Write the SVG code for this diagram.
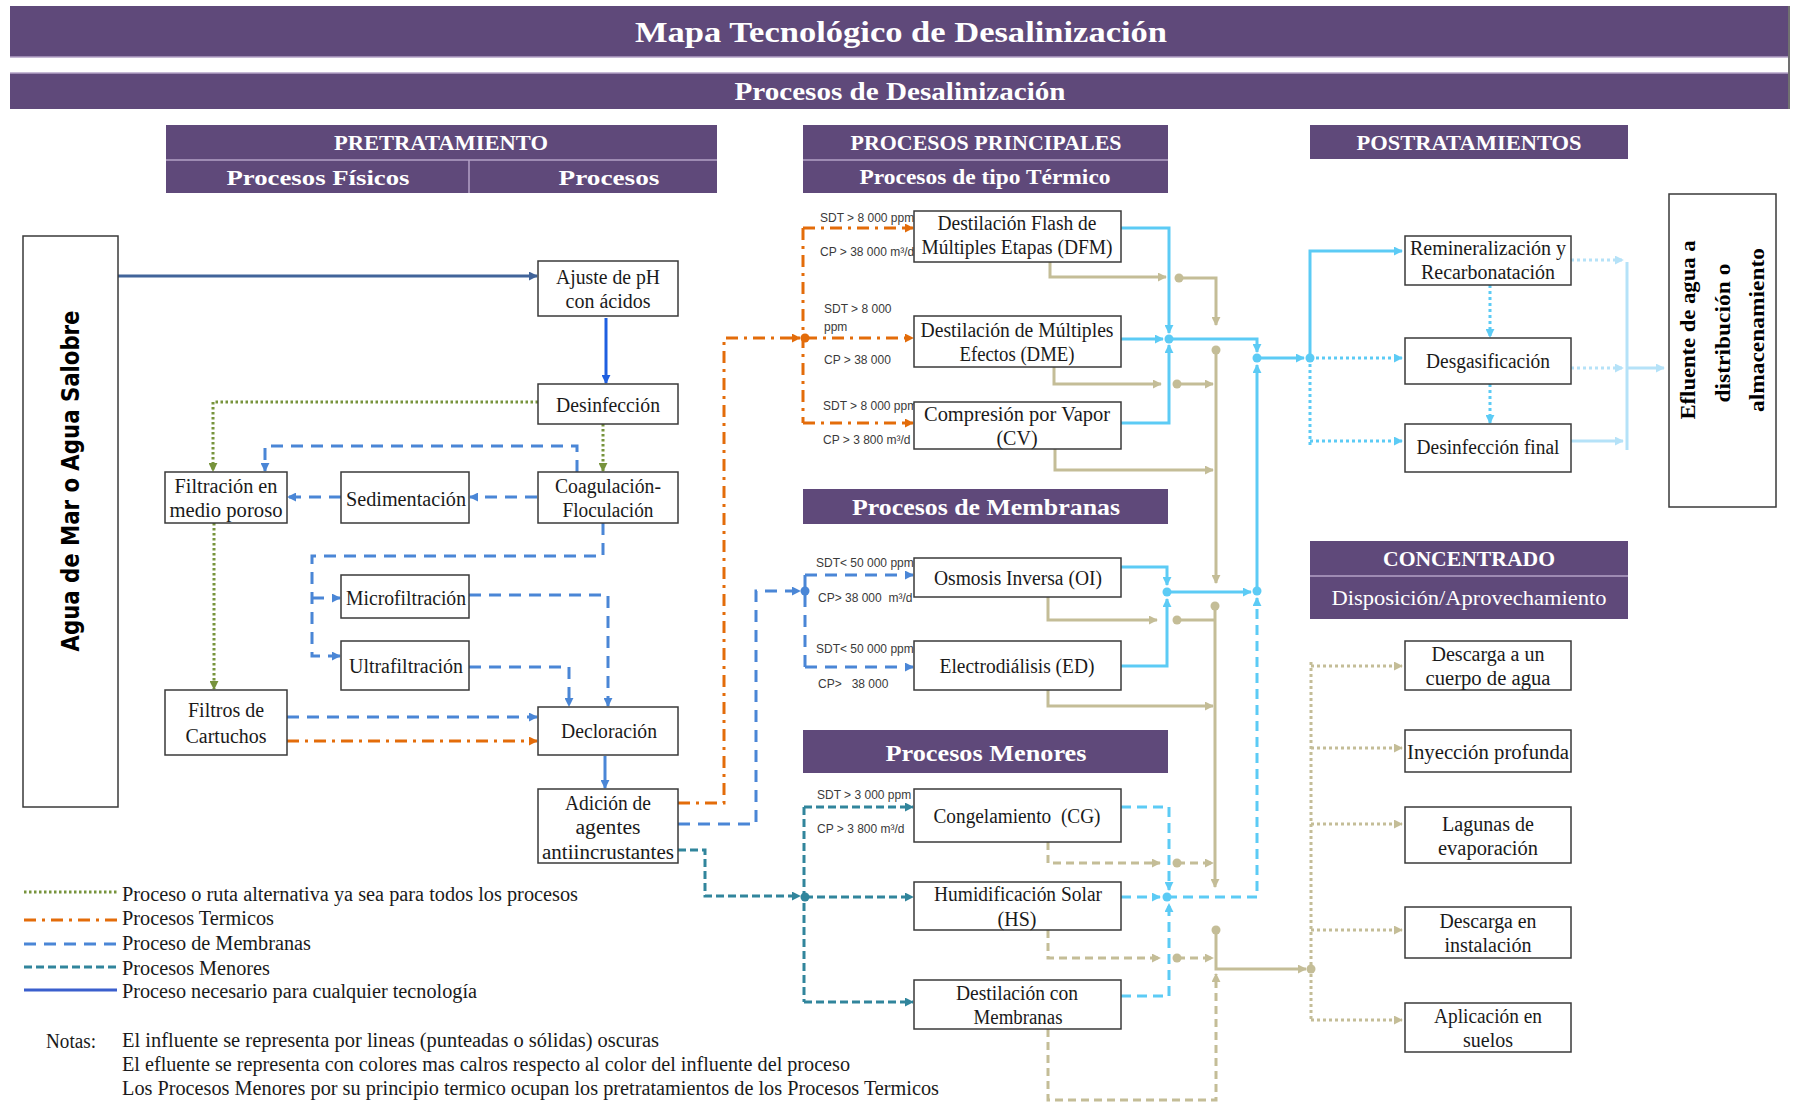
<svg xmlns="http://www.w3.org/2000/svg" width="1794" height="1115" viewBox="0 0 1794 1115">
  <style>
    .band { fill: #5f497a; }
    .sep { stroke: #b3a2c7; stroke-width: 1.5; }
    .hd { font-family: "Liberation Serif", serif; font-weight: bold; fill: #ffffff; text-anchor: middle; }
    .hdn { font-family: "Liberation Serif", serif; fill: #ffffff; text-anchor: middle; }
    .box { fill: #ffffff; stroke: #3a3a3a; stroke-width: 1.5; }
    .bx { font-family: "Liberation Serif", serif; font-size: 20px; fill: #1a1a1a; text-anchor: middle; }
    .lbl { font-family: "Liberation Sans", "Open Sans", sans-serif; font-size: 12px; fill: #3a3a3a; }
    .lg { font-family: "Liberation Serif", serif; font-size: 20px; fill: #1a1a1a; }
    .c { fill: none; stroke-width: 3; }
    .steel { stroke: #41649a; }
    .sblue { stroke: #1f5fe0; }
    .lblue { stroke: #4a86d6; }
    .mem { stroke: #4a86d6; stroke-dasharray: 12 8; }
    .ter { stroke: #e36c0a; stroke-dasharray: 12 6 3 6; }
    .alt { stroke: #77933c; stroke-dasharray: 2.5 2.5; }
    .men { stroke: #31859c; stroke-dasharray: 8 4; }
    .eff { stroke: #5ccbf5; }
    .effd { stroke: #5ccbf5; stroke-dasharray: 10 6; }
    .effp { stroke: #5ccbf5; stroke-dasharray: 3 3; }
    .fin { stroke: #b5e2f8; }
    .finp { stroke: #b5e2f8; stroke-dasharray: 3 3; }
    .con { stroke: #c4bd97; }
    .cond { stroke: #c4bd97; stroke-dasharray: 8 5; }
    .conp { stroke: #c4bd97; stroke-dasharray: 3 3; }
  </style>
  <defs>
    <marker id="a-steel" viewBox="0 0 10 10" refX="9" refY="5" markerWidth="9" markerHeight="9" markerUnits="userSpaceOnUse" orient="auto"><path d="M0,0L10,5L0,10z" fill="#41649a"/></marker>
    <marker id="a-sblue" viewBox="0 0 10 10" refX="9" refY="5" markerWidth="9" markerHeight="9" markerUnits="userSpaceOnUse" orient="auto"><path d="M0,0L10,5L0,10z" fill="#1f5fe0"/></marker>
    <marker id="a-blue" viewBox="0 0 10 10" refX="9" refY="5" markerWidth="9" markerHeight="9" markerUnits="userSpaceOnUse" orient="auto"><path d="M0,0L10,5L0,10z" fill="#4a86d6"/></marker>
    <marker id="a-or" viewBox="0 0 10 10" refX="9" refY="5" markerWidth="9" markerHeight="9" markerUnits="userSpaceOnUse" orient="auto"><path d="M0,0L10,5L0,10z" fill="#e36c0a"/></marker>
    <marker id="a-gr" viewBox="0 0 10 10" refX="9" refY="5" markerWidth="9" markerHeight="9" markerUnits="userSpaceOnUse" orient="auto"><path d="M0,0L10,5L0,10z" fill="#77933c"/></marker>
    <marker id="a-tl" viewBox="0 0 10 10" refX="9" refY="5" markerWidth="9" markerHeight="9" markerUnits="userSpaceOnUse" orient="auto"><path d="M0,0L10,5L0,10z" fill="#31859c"/></marker>
    <marker id="a-lb" viewBox="0 0 10 10" refX="9" refY="5" markerWidth="9" markerHeight="9" markerUnits="userSpaceOnUse" orient="auto"><path d="M0,0L10,5L0,10z" fill="#5ccbf5"/></marker>
    <marker id="a-vl" viewBox="0 0 10 10" refX="9" refY="5" markerWidth="9" markerHeight="9" markerUnits="userSpaceOnUse" orient="auto"><path d="M0,0L10,5L0,10z" fill="#b5e2f8"/></marker>
    <marker id="a-bg" viewBox="0 0 10 10" refX="9" refY="5" markerWidth="9" markerHeight="9" markerUnits="userSpaceOnUse" orient="auto"><path d="M0,0L10,5L0,10z" fill="#c4bd97"/></marker>
  </defs>

  <rect width="1794" height="1115" fill="#ffffff"/>

  <!-- Section headers -->
  <g id="headers">
    <rect class="band" x="10" y="6" width="1778" height="51"/>
    <line class="sep" x1="10" y1="57" x2="1788" y2="57"/>
    <text class="hd" x="901" y="42" font-size="29" textLength="532" lengthAdjust="spacingAndGlyphs">Mapa Tecnológico de Desalinización</text>
    <rect class="band" x="10" y="73" width="1778" height="36"/>
    <line class="sep" x1="10" y1="73" x2="1788" y2="73"/>
    <text class="hd" x="900" y="100" font-size="25" textLength="331" lengthAdjust="spacingAndGlyphs">Procesos de Desalinización</text>
    <line x1="1789" y1="6" x2="1789" y2="109" stroke="#404040" stroke-width="1.5"/>

    <rect class="band" x="166" y="125" width="551" height="68"/>
    <line class="sep" x1="166" y1="160" x2="717" y2="160"/>
    <line class="sep" x1="469" y1="160" x2="469" y2="193"/>
    <text class="hd" x="441" y="150" font-size="21" textLength="214" lengthAdjust="spacingAndGlyphs">PRETRATAMIENTO</text>
    <text class="hd" x="318" y="185" font-size="22" textLength="183" lengthAdjust="spacingAndGlyphs">Procesos Físicos</text>
    <text class="hd" x="609" y="185" font-size="22" textLength="101" lengthAdjust="spacingAndGlyphs">Procesos</text>

    <rect class="band" x="803" y="125" width="365" height="68"/>
    <line class="sep" x1="803" y1="160" x2="1168" y2="160"/>
    <text class="hd" x="986" y="150" font-size="21" textLength="271" lengthAdjust="spacingAndGlyphs">PROCESOS PRINCIPALES</text>
    <text class="hd" x="985" y="184" font-size="20" textLength="251" lengthAdjust="spacingAndGlyphs">Procesos de tipo Térmico</text>

    <rect class="band" x="1310" y="125" width="318" height="34"/>
    <text class="hd" x="1469" y="150" font-size="21" textLength="225" lengthAdjust="spacingAndGlyphs">POSTRATAMIENTOS</text>

    <rect class="band" x="803" y="489" width="365" height="35"/>
    <text class="hd" x="986" y="515" font-size="24" textLength="268" lengthAdjust="spacingAndGlyphs">Procesos de Membranas</text>

    <rect class="band" x="803" y="730" width="365" height="43"/>
    <text class="hd" x="986" y="761" font-size="24" textLength="201" lengthAdjust="spacingAndGlyphs">Procesos Menores</text>

    <rect class="band" x="1310" y="541" width="318" height="78"/>
    <line class="sep" x1="1310" y1="576" x2="1628" y2="576"/>
    <text class="hd" x="1469" y="566" font-size="22" textLength="172" lengthAdjust="spacingAndGlyphs">CONCENTRADO</text>
    <text class="hdn" x="1469" y="605" font-size="21" textLength="275" lengthAdjust="spacingAndGlyphs">Disposición/Aprovechamiento</text>
  </g>

  <!-- Connectors -->
  <g id="connectors">
    <!-- pretreatment chain -->
    <path class="c steel" d="M118,276H537" marker-end="url(#a-steel)"/>
    <path class="c sblue" d="M606,318V383" marker-end="url(#a-sblue)"/>
    <path class="c lblue" d="M605,756V788" marker-end="url(#a-blue)"/>

    <path class="c alt" d="M538,402H213V471" marker-end="url(#a-gr)"/>
    <path class="c alt" d="M603,424V471" marker-end="url(#a-gr)"/>
    <path class="c alt" d="M214,523V689" marker-end="url(#a-gr)"/>

    <path class="c mem" d="M577,472V446H265V471" marker-end="url(#a-blue)"/>
    <path class="c mem" d="M537,497H470" marker-end="url(#a-blue)"/>
    <path class="c mem" d="M341,497H288" marker-end="url(#a-blue)"/>
    <path class="c mem" d="M603,523V556H312V656H340" marker-end="url(#a-blue)"/>
    <path class="c mem" d="M312,598H340" marker-end="url(#a-blue)"/>
    <path class="c mem" d="M469,595H608V706" marker-end="url(#a-blue)"/>
    <path class="c mem" d="M469,667H569V706" marker-end="url(#a-blue)"/>
    <path class="c mem" d="M287,717H537" marker-end="url(#a-blue)"/>
    <path class="c ter" d="M287,741H537" marker-end="url(#a-or)"/>

    <!-- feeds to main processes -->
    <path class="c ter" d="M678,803H724V338H800" marker-end="url(#a-or)"/>
    <path class="c ter" d="M803,228V423"/>
    <path class="c ter" d="M803,228H913" marker-end="url(#a-or)"/>
    <path class="c ter" d="M805,338H913" marker-end="url(#a-or)"/>
    <path class="c ter" d="M803,423H913" marker-end="url(#a-or)"/>
    <circle cx="805" cy="338" r="4.5" fill="#e36c0a"/>

    <path class="c mem" d="M678,824H756V591H800" marker-end="url(#a-blue)"/>
    <path class="c mem" d="M805,575V667"/>
    <path class="c mem" d="M805,575H913" marker-end="url(#a-blue)"/>
    <path class="c mem" d="M805,667H913" marker-end="url(#a-blue)"/>
    <circle cx="805" cy="591" r="4.5" fill="#4a86d6"/>

    <path class="c men" d="M678,850H705V896H800" marker-end="url(#a-tl)"/>
    <path class="c men" d="M804,807V1002"/>
    <path class="c men" d="M804,807H913" marker-end="url(#a-tl)"/>
    <path class="c men" d="M805,897H913" marker-end="url(#a-tl)"/>
    <path class="c men" d="M804,1002H913" marker-end="url(#a-tl)"/>
    <circle cx="805" cy="897" r="4.5" fill="#31859c"/>

    <!-- feed conditions -->
    <text class="lbl" x="820" y="222">SDT &gt; 8 000 ppm</text>
    <text class="lbl" x="820" y="256">CP &gt; 38 000 m³/d</text>
    <text class="lbl" x="824" y="313">SDT &gt; 8 000</text>
    <text class="lbl" x="824" y="331">ppm</text>
    <text class="lbl" x="824" y="364">CP &gt; 38 000</text>
    <text class="lbl" x="823" y="410">SDT &gt; 8 000 ppm</text>
    <text class="lbl" x="823" y="444">CP &gt; 3 800 m³/d</text>
    <text class="lbl" x="816" y="567">SDT&lt; 50 000 ppm</text>
    <text class="lbl" x="818" y="602" xml:space="preserve">CP&gt; 38 000  m³/d</text>
    <text class="lbl" x="816" y="653">SDT&lt; 50 000 ppm</text>
    <text class="lbl" x="818" y="688" xml:space="preserve">CP&gt;   38 000</text>
    <text class="lbl" x="817" y="799">SDT &gt; 3 000 ppm</text>
    <text class="lbl" x="817" y="833">CP &gt; 3 800 m³/d</text>

    <!-- product water -->
    <path class="c eff" d="M1121,228H1169V333" marker-end="url(#a-lb)"/>
    <path class="c eff" d="M1121,339H1163" marker-end="url(#a-lb)"/>
    <path class="c eff" d="M1121,423H1169V345" marker-end="url(#a-lb)"/>
    <path class="c eff" d="M1169,339H1257V352" marker-end="url(#a-lb)"/>
    <path class="c eff" d="M1257,358H1304" marker-end="url(#a-lb)"/>
    <path class="c eff" d="M1257,591V365" marker-end="url(#a-lb)"/>
    <path class="c eff" d="M1310,358V251H1402" marker-end="url(#a-lb)"/>
    <path class="c eff" d="M1121,567H1167V585" marker-end="url(#a-lb)"/>
    <path class="c eff" d="M1121,666H1167V599" marker-end="url(#a-lb)"/>
    <path class="c eff" d="M1167,592H1251" marker-end="url(#a-lb)"/>
    <path class="c effd" d="M1121,807H1169V890" marker-end="url(#a-lb)"/>
    <path class="c effd" d="M1121,897H1160" marker-end="url(#a-lb)"/>
    <path class="c effd" d="M1121,996H1169V904" marker-end="url(#a-lb)"/>
    <path class="c effd" d="M1167,897H1257V598" marker-end="url(#a-lb)"/>
    <path class="c effp" d="M1310,358H1402" marker-end="url(#a-lb)"/>
    <path class="c effp" d="M1310,358V447"/>
    <path class="c effp" d="M1310,441H1402" marker-end="url(#a-lb)"/>
    <path class="c effp" d="M1490,285V337" marker-end="url(#a-lb)"/>
    <path class="c effp" d="M1490,384V423" marker-end="url(#a-lb)"/>
    <circle cx="1169" cy="339" r="4.5" fill="#5ccbf5"/>
    <circle cx="1257" cy="358" r="4.5" fill="#5ccbf5"/>
    <circle cx="1310" cy="358" r="4.5" fill="#5ccbf5"/>
    <circle cx="1167" cy="592" r="4.5" fill="#5ccbf5"/>
    <circle cx="1257" cy="591" r="4.5" fill="#5ccbf5"/>
    <circle cx="1167" cy="897" r="4.5" fill="#5ccbf5"/>

    <path class="c finp" d="M1571,260H1623" marker-end="url(#a-vl)"/>
    <path class="c finp" d="M1571,368H1623" marker-end="url(#a-vl)"/>
    <path class="c fin" d="M1571,441H1623" marker-end="url(#a-vl)"/>
    <path class="c fin" d="M1627,262V450"/>
    <path class="c fin" d="M1627,368H1664" marker-end="url(#a-vl)"/>

    <!-- brine -->
    <path class="c con" d="M1050,261V277H1166" marker-end="url(#a-bg)"/>
    <path class="c con" d="M1179,278H1216V325" marker-end="url(#a-bg)"/>
    <path class="c con" d="M1054,367V384H1161" marker-end="url(#a-bg)"/>
    <path class="c con" d="M1177,384H1213" marker-end="url(#a-bg)"/>
    <path class="c con" d="M1055,449V470H1213" marker-end="url(#a-bg)"/>
    <path class="c con" d="M1216,350V583" marker-end="url(#a-bg)"/>
    <path class="c con" d="M1048,597V620H1157" marker-end="url(#a-bg)"/>
    <path class="c con" d="M1177,620H1215"/>
    <path class="c con" d="M1215,606V887" marker-end="url(#a-bg)"/>
    <path class="c con" d="M1048,690V706H1213" marker-end="url(#a-bg)"/>
    <path class="c con" d="M1216,930V969H1306" marker-end="url(#a-bg)"/>
    <path class="c cond" d="M1048,842V863H1160" marker-end="url(#a-bg)"/>
    <path class="c cond" d="M1177,863H1213" marker-end="url(#a-bg)"/>
    <path class="c cond" d="M1048,930V958H1160" marker-end="url(#a-bg)"/>
    <path class="c cond" d="M1177,958H1213" marker-end="url(#a-bg)"/>
    <path class="c cond" d="M1048,1029V1100H1216V974" marker-end="url(#a-bg)"/>
    <path class="c conp" d="M1311,662V1020"/>
    <path class="c conp" d="M1311,666H1402" marker-end="url(#a-bg)"/>
    <path class="c conp" d="M1311,748H1402" marker-end="url(#a-bg)"/>
    <path class="c conp" d="M1311,824H1402" marker-end="url(#a-bg)"/>
    <path class="c conp" d="M1311,930H1402" marker-end="url(#a-bg)"/>
    <path class="c conp" d="M1311,1020H1402" marker-end="url(#a-bg)"/>
    <g fill="#c4bd97">
      <circle cx="1179" cy="278" r="4.5"/>
      <circle cx="1177" cy="384" r="4.5"/>
      <circle cx="1216" cy="350" r="4.5"/>
      <circle cx="1177" cy="620" r="4.5"/>
      <circle cx="1215" cy="606" r="4.5"/>
      <circle cx="1177" cy="863" r="4.5"/>
      <circle cx="1177" cy="958" r="4.5"/>
      <circle cx="1216" cy="930" r="4.5"/>
      <circle cx="1311" cy="969" r="4.5"/>
    </g>
  </g>

  <!-- Nodes: pretreatment -->
  <g id="n-agua">
    <rect class="box" x="23" y="236" width="95" height="571"/>
    <text transform="translate(79,481) rotate(-90)" font-family="'DejaVu Sans', sans-serif" font-weight="bold" font-size="24" text-anchor="middle" fill="#000" textLength="341" lengthAdjust="spacingAndGlyphs">Agua de Mar o Agua Salobre</text>
  </g>
  <g id="n-ajuste"><rect class="box" x="538" y="261" width="140" height="55"/>
    <text class="bx" x="608" y="284" font-size="21" textLength="104" lengthAdjust="spacingAndGlyphs">Ajuste de pH</text>
    <text class="bx" x="608" y="308" font-size="21" textLength="85" lengthAdjust="spacingAndGlyphs">con ácidos</text></g>
  <g id="n-desinfeccion"><rect class="box" x="538" y="384" width="140" height="40"/>
    <text class="bx" x="608" y="412" font-size="21" textLength="104" lengthAdjust="spacingAndGlyphs">Desinfección</text></g>
  <g id="n-coagulacion"><rect class="box" x="538" y="472" width="140" height="51"/>
    <text class="bx" x="608" y="493" font-size="21" textLength="106" lengthAdjust="spacingAndGlyphs">Coagulación-</text>
    <text class="bx" x="608" y="517" font-size="21" textLength="91" lengthAdjust="spacingAndGlyphs">Floculación</text></g>
  <g id="n-sedimentacion"><rect class="box" x="341" y="472" width="128" height="51"/>
    <text class="bx" x="406" y="506" font-size="21" textLength="120" lengthAdjust="spacingAndGlyphs">Sedimentación</text></g>
  <g id="n-filtracion"><rect class="box" x="165" y="472" width="122" height="51"/>
    <text class="bx" x="226" y="493" font-size="21" textLength="103" lengthAdjust="spacingAndGlyphs">Filtración en</text>
    <text class="bx" x="226" y="517" font-size="21" textLength="113" lengthAdjust="spacingAndGlyphs">medio poroso</text></g>
  <g id="n-micro"><rect class="box" x="341" y="575" width="128" height="43"/>
    <text class="bx" x="406" y="605" font-size="21" textLength="120" lengthAdjust="spacingAndGlyphs">Microfiltración</text></g>
  <g id="n-ultra"><rect class="box" x="341" y="641" width="128" height="49"/>
    <text class="bx" x="406" y="673" font-size="21" textLength="114" lengthAdjust="spacingAndGlyphs">Ultrafiltración</text></g>
  <g id="n-filtros"><rect class="box" x="165" y="690" width="122" height="65"/>
    <text class="bx" x="226" y="717" font-size="21" textLength="76" lengthAdjust="spacingAndGlyphs">Filtros de</text>
    <text class="bx" x="226" y="743" font-size="21" textLength="81" lengthAdjust="spacingAndGlyphs">Cartuchos</text></g>
  <g id="n-decloracion"><rect class="box" x="538" y="707" width="140" height="48"/>
    <text class="bx" x="609" y="738" font-size="21" textLength="96" lengthAdjust="spacingAndGlyphs">Decloración</text></g>
  <g id="n-adicion"><rect class="box" x="538" y="789" width="140" height="74"/>
    <text class="bx" x="608" y="810" font-size="21" textLength="86" lengthAdjust="spacingAndGlyphs">Adición de</text>
    <text class="bx" x="608" y="834" font-size="21" textLength="65" lengthAdjust="spacingAndGlyphs">agentes</text>
    <text class="bx" x="608" y="859" font-size="21" textLength="132" lengthAdjust="spacingAndGlyphs">antiincrustantes</text></g>

  <!-- Nodes: main processes -->
  <g id="n-dfm"><rect class="box" x="914" y="211" width="207" height="51"/>
    <text class="bx" x="1017" y="230" textLength="159" lengthAdjust="spacingAndGlyphs">Destilación Flash de</text>
    <text class="bx" x="1017" y="254" textLength="191" lengthAdjust="spacingAndGlyphs">Múltiples Etapas (DFM)</text></g>
  <g id="n-dme"><rect class="box" x="914" y="316" width="207" height="51"/>
    <text class="bx" x="1017" y="337" textLength="193" lengthAdjust="spacingAndGlyphs">Destilación de Múltiples</text>
    <text class="bx" x="1017" y="361" textLength="115" lengthAdjust="spacingAndGlyphs">Efectos (DME)</text></g>
  <g id="n-cv"><rect class="box" x="914" y="402" width="207" height="47"/>
    <text class="bx" x="1017" y="421" textLength="186" lengthAdjust="spacingAndGlyphs">Compresión por Vapor</text>
    <text class="bx" x="1017" y="445">(CV)</text></g>
  <g id="n-oi"><rect class="box" x="914" y="558" width="207" height="39"/>
    <text class="bx" x="1018" y="585" textLength="168" lengthAdjust="spacingAndGlyphs">Osmosis Inversa (OI)</text></g>
  <g id="n-ed"><rect class="box" x="914" y="641" width="207" height="49"/>
    <text class="bx" x="1017" y="673" textLength="155" lengthAdjust="spacingAndGlyphs">Electrodiálisis (ED)</text></g>
  <g id="n-cg"><rect class="box" x="914" y="789" width="207" height="53"/>
    <text class="bx" x="1017" y="823" textLength="167" lengthAdjust="spacingAndGlyphs" xml:space="preserve">Congelamiento  (CG)</text></g>
  <g id="n-hs"><rect class="box" x="914" y="882" width="207" height="48"/>
    <text class="bx" x="1018" y="901" textLength="168" lengthAdjust="spacingAndGlyphs">Humidificación Solar</text>
    <text class="bx" x="1017" y="926">(HS)</text></g>
  <g id="n-dm"><rect class="box" x="914" y="980" width="207" height="49"/>
    <text class="bx" x="1017" y="1000" textLength="122" lengthAdjust="spacingAndGlyphs">Destilación con</text>
    <text class="bx" x="1018" y="1024" textLength="89" lengthAdjust="spacingAndGlyphs">Membranas</text></g>

  <!-- Nodes: post-treatment -->
  <g id="n-remin"><rect class="box" x="1405" y="236" width="166" height="49"/>
    <text class="bx" x="1488" y="255" textLength="156" lengthAdjust="spacingAndGlyphs">Remineralización y</text>
    <text class="bx" x="1488" y="279" textLength="134" lengthAdjust="spacingAndGlyphs">Recarbonatación</text></g>
  <g id="n-desgas"><rect class="box" x="1405" y="338" width="166" height="46"/>
    <text class="bx" x="1488" y="368" textLength="124" lengthAdjust="spacingAndGlyphs">Desgasificación</text></g>
  <g id="n-desinf-final"><rect class="box" x="1405" y="424" width="166" height="48"/>
    <text class="bx" x="1488" y="454" textLength="143" lengthAdjust="spacingAndGlyphs">Desinfección final</text></g>
  <g id="n-efluente">
    <rect class="box" x="1669" y="194" width="107" height="313"/>
    <g font-family="'Liberation Serif', serif" font-weight="bold" font-size="22" text-anchor="middle" fill="#000">
      <text transform="translate(1695,330) rotate(-90)" textLength="179" lengthAdjust="spacingAndGlyphs">Efluente de agua a</text>
      <text transform="translate(1730,333) rotate(-90)" textLength="139" lengthAdjust="spacingAndGlyphs">distribución o</text>
      <text transform="translate(1764,330) rotate(-90)" textLength="164" lengthAdjust="spacingAndGlyphs">almacenamiento</text>
    </g>
  </g>

  <!-- Nodes: brine disposal -->
  <g id="n-descarga-cuerpo"><rect class="box" x="1405" y="641" width="166" height="49"/>
    <text class="bx" x="1488" y="661" textLength="113" lengthAdjust="spacingAndGlyphs">Descarga a un</text>
    <text class="bx" x="1488" y="685" textLength="125" lengthAdjust="spacingAndGlyphs">cuerpo de agua</text></g>
  <g id="n-inyeccion"><rect class="box" x="1405" y="730" width="166" height="42"/>
    <text class="bx" x="1488" y="759" textLength="162" lengthAdjust="spacingAndGlyphs">Inyección profunda</text></g>
  <g id="n-lagunas"><rect class="box" x="1405" y="807" width="166" height="56"/>
    <text class="bx" x="1488" y="831" textLength="92" lengthAdjust="spacingAndGlyphs">Lagunas de</text>
    <text class="bx" x="1488" y="855" textLength="100" lengthAdjust="spacingAndGlyphs">evaporación</text></g>
  <g id="n-descarga-inst"><rect class="box" x="1405" y="907" width="166" height="51"/>
    <text class="bx" x="1488" y="928" textLength="97" lengthAdjust="spacingAndGlyphs">Descarga en</text>
    <text class="bx" x="1488" y="952" textLength="87" lengthAdjust="spacingAndGlyphs">instalación</text></g>
  <g id="n-aplicacion"><rect class="box" x="1405" y="1003" width="166" height="49"/>
    <text class="bx" x="1488" y="1023" textLength="108" lengthAdjust="spacingAndGlyphs">Aplicación en</text>
    <text class="bx" x="1488" y="1047">suelos</text></g>

  <!-- Legend and notes -->
  <g id="legend">
    <path class="c alt" d="M24,892H117"/>
    <path class="c ter" d="M24,920H117"/>
    <path class="c mem" d="M24,944H117"/>
    <path class="c men" d="M24,967H117"/>
    <path class="c" d="M24,990H117" stroke="#3a5fcd"/>
    <text class="lg" x="122" y="901" textLength="456" lengthAdjust="spacingAndGlyphs">Proceso o ruta alternativa ya sea para todos los procesos</text>
    <text class="lg" x="122" y="925" textLength="152" lengthAdjust="spacingAndGlyphs">Procesos Termicos</text>
    <text class="lg" x="122" y="950" textLength="189" lengthAdjust="spacingAndGlyphs">Proceso de Membranas</text>
    <text class="lg" x="122" y="975" textLength="148" lengthAdjust="spacingAndGlyphs">Procesos Menores</text>
    <text class="lg" x="122" y="998" textLength="355" lengthAdjust="spacingAndGlyphs">Proceso necesario para cualquier tecnología</text>
    <text class="lg" x="46" y="1048" textLength="50" lengthAdjust="spacingAndGlyphs">Notas:</text>
    <text class="lg" x="122" y="1047" textLength="537" lengthAdjust="spacingAndGlyphs">El influente se representa por lineas (punteadas o sólidas) oscuras</text>
    <text class="lg" x="122" y="1071" textLength="728" lengthAdjust="spacingAndGlyphs">El efluente se representa con colores mas calros respecto al color del influente del proceso</text>
    <text class="lg" x="122" y="1095" textLength="817" lengthAdjust="spacingAndGlyphs">Los Procesos Menores por su principio termico ocupan los pretratamientos de los Procesos Termicos</text>
  </g>
</svg>
